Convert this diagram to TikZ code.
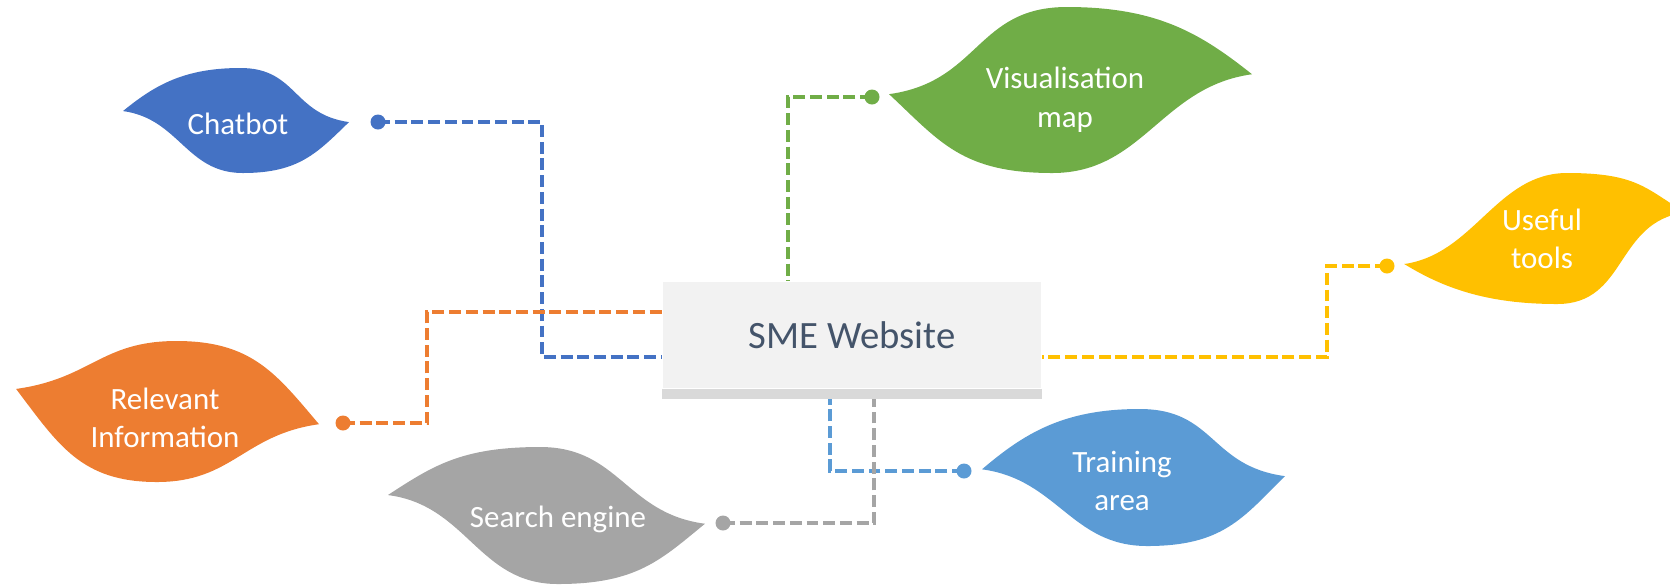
\documentclass[tikz,border=0pt]{standalone}
\usepackage{fontspec}
\setmainfont{Carlito}

\definecolor{chatblue}{HTML}{4472C4}
\definecolor{relorange}{HTML}{ED7D31}
\definecolor{visgreen}{HTML}{70AD47}
\definecolor{toolyellow}{HTML}{FFC000}
\definecolor{searchgray}{HTML}{A5A5A5}
\definecolor{trainblue}{HTML}{5B9BD5}
\definecolor{boxgray}{HTML}{F2F2F2}
\definecolor{bargray}{HTML}{D9D9D9}
\definecolor{slate}{HTML}{44546A}

% leaf: colour, centre x, centre y, half width, half height,
% left tip, right tip, top offset, bottom offset
\newcommand{\leafA}[9]{%
  \fill[#1,shift={(#2,#3)},xscale=#4,yscale=-#5]
    (-1,#6) .. controls (-0.72,{#6+0.6*(1-(#6))}) and ({#8-0.5},1) .. (#8,1)
    .. controls ({#8+0.5},1) and (0.5,{#7+0.15}) .. (1,#7)
    .. controls (0.72,{#7-0.6*(1+(#7))}) and ({#9+0.5},-1) .. (#9,-1)
    .. controls ({#9-0.5},-1) and (-0.5,{#6-0.15}) .. cycle;}
\newcommand{\leafB}[9]{%
  \fill[#1,shift={(#2,#3)},xscale=#4,yscale=-#5]
    (-1,#6) .. controls (-0.5,{#6+0.15}) and ({#8-0.5},1) .. (#8,1)
    .. controls ({#8+0.5},1) and (0.72,{#7+0.6*(1-(#7))}) .. (1,#7)
    .. controls (0.5,{#7-0.15}) and ({#9+0.5},-1) .. (#9,-1)
    .. controls ({#9-0.5},-1) and (-0.72,{#6-0.6*(1+(#6))}) .. cycle;}

\begin{document}
\begin{tikzpicture}[x=0.01cm,y=-0.01cm,
  leaftext/.style={text=white,align=center,font=\fontsize{8.8}{11}\selectfont},
  knob/.style={circle,inner sep=0pt,minimum size=0.15cm,fill=#1},
  wire/.style={draw=#1,line width=0.95pt,dash pattern=on 3.4pt off 1.35pt}]

\clip (0,0) rectangle (1670,584);

% leaves
\leafA{chatblue}{236}{120.5}{113}{52.5}{0.18}{-0.03}{0.04}{0.06}
\leafB{visgreen}{1070.5}{90}{181.5}{83}{-0.05}{0.19}{-0.02}{-0.10}
\leafB{toolyellow}{1544.5}{238.5}{140.5}{65.5}{-0.39}{0.40}{0.16}{0.09}
\leafB{relorange}{167.5}{411.5}{151.5}{70.5}{0.32}{-0.18}{0.06}{-0.07}
\leafA{searchgray}{546.5}{515.5}{158.5}{68.5}{0.30}{-0.12}{-0.04}{0.07}
\leafA{trainblue}{1133.5}{477.5}{151.5}{68.5}{0.12}{0.02}{0.04}{0.09}

\node[leaftext] (chat) at (238,124) {Chatbot};
\node[leaftext] (vis) at (1065,100) {Visualisation\\map};
\node[leaftext] (use) at (1542,239) {Useful\\tools};
\node[leaftext] (rel) at (165,418) {Relevant\\Information};
\node[leaftext] (search) at (558,519) {Search engine};
\node[leaftext] (train) at (1122,481) {Training\\area};

% centre box
\node[fill=boxgray,minimum width=3.78cm,minimum height=1.06cm,text=slate,
  font=\fontsize{11}{13}\selectfont] (sme) at (852,335) {SME Website};
\fill[bargray] (sme.south west) rectangle ([yshift=-0.1cm]sme.south east);
\coordinate (smebase) at ([yshift=-0.1cm]sme.south);

\node[knob=chatblue] (chatdot) at (378,122) {};
\node[knob=relorange] (reldot) at (343,423) {};
\node[knob=visgreen] (visdot) at (872,97) {};
\node[knob=toolyellow] (usedot) at (1387,266) {};
\node[knob=trainblue] (traindot) at (964,471) {};
\node[knob=searchgray] (searchdot) at (723,523) {};

\coordinate (cturn) at (542,357);
\coordinate (rturn) at (427,312);
\coordinate (vturn) at (788,97);
\coordinate (uturn) at (1327,357);
\coordinate (tturn) at (830,471);
\coordinate (sturn) at (874,523);

% dashed links
\draw[wire=chatblue] (chatdot.center) -| (cturn) -- (cturn -| sme.west);
\draw[wire=relorange] (reldot.center) -| (rturn) -- (rturn -| sme.west);
\draw[wire=visgreen] (visdot.center) -- (vturn) -- (vturn |- sme.north);
\draw[wire=toolyellow] (usedot.center) -| (uturn) -- (uturn -| sme.east);
\draw[wire=trainblue] (traindot.center) -- (tturn) -- (tturn |- smebase);
\draw[wire=searchgray] (searchdot.center) -- (sturn) -- (sturn |- smebase);

\end{tikzpicture}
\end{document}
